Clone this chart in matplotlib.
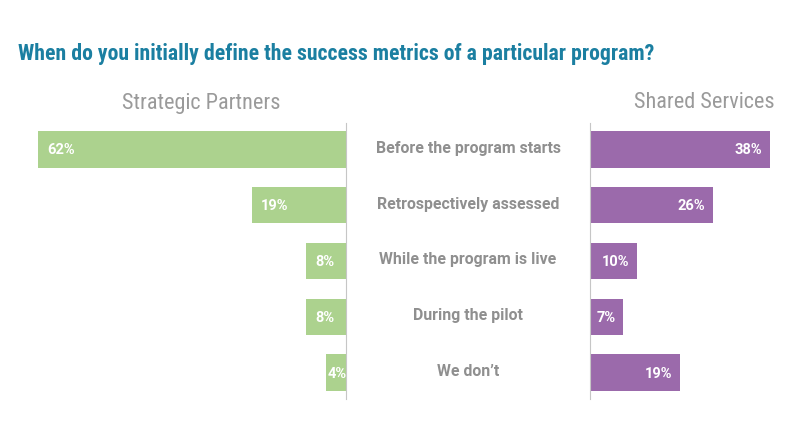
import matplotlib
matplotlib.use('Agg')
import matplotlib.pyplot as plt
import matplotlib.transforms as mtrans
from matplotlib import font_manager

categories = ['Before the program starts', 'Retrospectively assessed',
              'While the program is live', 'During the pilot', 'We don\u2019t']
strategic = [62, 19, 8, 8, 4]
shared = [38, 26, 10, 7, 19]

green = '#acd28e'
purple = '#9b6aab'
grey_txt = '#8f8f8f'
line_col = '#c6c6c6'
title_col = '#1b7fa1'

# narrow font for the title, if there is one
names = set(f.name for f in font_manager.fontManager.ttflist)
narrow = 'Roboto'
for n in ['Roboto Condensed', 'Liberation Sans Narrow', 'DejaVu Sans Condensed']:
    if n in names:
        narrow = n
        break
plt.rcParams['font.family'] = ['Roboto', 'DejaVu Sans']

fig = plt.figure(figsize=(8, 4.39), dpi=100)
W, H = 800, 439

def box(x0, x1, y0, y1):
    return [x0 / W, 1 - y1 / H, (x1 - x0) / W, (y1 - y0) / H]

axL = fig.add_axes(box(23, 346, 124, 400))
axR = fig.add_axes(box(590, 798, 124, 400))

y = list(range(len(categories)))
axL.barh(y, strategic, height=0.65, color=green)
axR.barh(y, shared, height=0.65, color=purple)

axL.set_xlim(65, 0)
axR.set_xlim(0, 44)
for ax in (axL, axR):
    ax.set_ylim(4.475, -0.475)
    ax.set_xticks([])
    ax.set_yticks([])
    for s in ax.spines.values():
        s.set_visible(False)
axL.spines['right'].set_visible(True)
axL.spines['right'].set_color(line_col)
axR.spines['left'].set_visible(True)
axR.spines['left'].set_color(line_col)

for i, v in enumerate(strategic):
    axL.text(v - 1.8 if v > 5 else v - 0.2, i, f'{v}%', color='white',
             fontsize=10.5, fontweight='bold', ha='left', va='center')
for i, v in enumerate(shared):
    axR.text(v - 1.6, i, f'{v}%', color='white',
             fontsize=10.5, fontweight='bold', ha='right', va='center')

tr = mtrans.blended_transform_factory(fig.transFigure, axL.transData)
for i, c in enumerate(categories):
    fig.text(468 / W, i - 0.04, c, transform=tr, color=grey_txt,
             fontsize=11.4, fontweight='bold', ha='center', va='center')

fig.text(18 / W, 1 - 54 / H,
         'When do you initially define the success metrics of a particular program?',
         family=narrow, fontsize=15.7, fontweight='bold', color=title_col,
         ha='left', va='center')
fig.text(201 / W, 1 - 103 / H, 'Strategic Partners', family=narrow,
         fontsize=16, color='#9a9a9a', ha='center', va='center')
fig.text(704 / W, 1 - 103 / H, 'Shared Services', family=narrow,
         fontsize=16, color='#9a9a9a', ha='center', va='center')

fig.savefig('out.png', dpi=100)
